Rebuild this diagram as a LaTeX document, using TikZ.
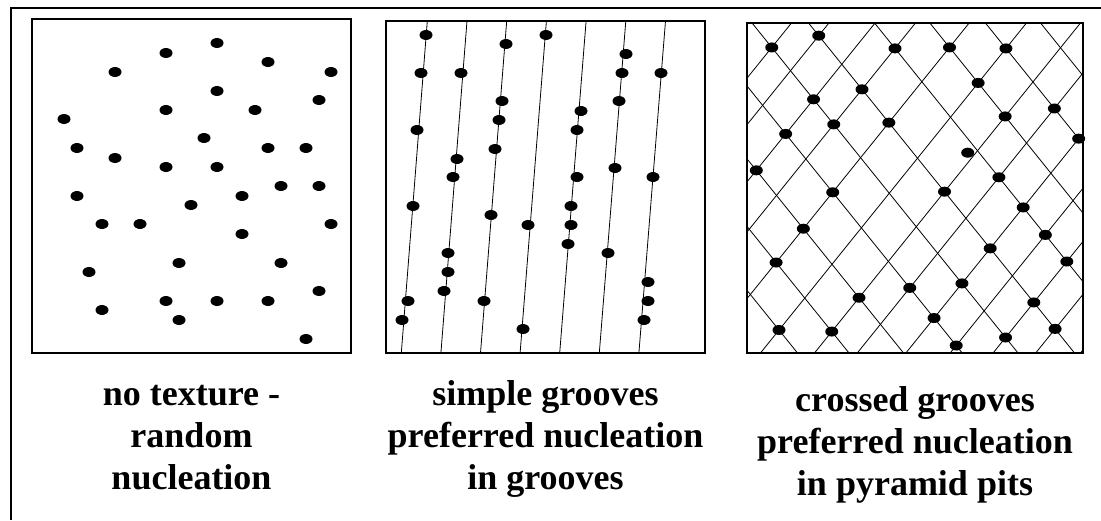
\documentclass[tikz,border=0pt]{standalone}
\usepackage{fontspec}
\setmainfont{Liberation Serif}

\begin{document}
\begin{tikzpicture}[x=1pt,y=-1pt,
  box/.style={line width=2.6pt},
  groove/.style={line width=0.8pt},
  frameline/.style={line width=1.6pt},
  lbl/.style={font=\bfseries\fontsize{36}{42}\selectfont,anchor=base,inner sep=0pt}]
 \useasboundingbox (0,0) rectangle (1101,520);
 % frame, top and left side only
 \draw[frameline] (1101,8)--(11,8)--(11,520);
 % no texture
 \foreach \x/\y in {217/43,166/53,268/62,115/72,331/72,217/91,319/100,166/110,255/110,
   64/119,204/138,77/148,268/148,306/148,115/158,166/167,217/167,281/186,319/186,
   77/196,242/196,191/205,102/224,140/224,331/224,242/234,179/263,281/263,89/272,
   319/291,166/301,217/301,268/301,102/310,179/320,306/339}{\fill (\x,\y) ellipse (6.5pt and 5pt);}
 \draw[box] (32,19) rectangle (351,353);
 % simple grooves
 \foreach \i in {0,...,6}{\draw[groove] ({427.3+39.7*\i},21)--({401.3+39.6*\i},353);}
 \foreach \x/\y in {426/35,421/73,417/130,413/206,408/301,402/320,
   461/73,457/159,453/177,448/253,448/272,444/291,
   506/44,502/101,499/120,495/149,491/215,484/301,
   546/35,528/225,523/329,
   581/111,577/130,577/177,571/206,571/225,568/244,
   626/54,622/73,619/101,615/168,608/253,
   661/73,653/177,648/282,648/301,644/320}{\fill (\x,\y) ellipse (6.5pt and 5pt);}
 \draw[box] (386,21) rectangle (705,353);
 % crossed grooves
 \begin{scope}
  \clip (747,23) rectangle (1083,353);
  \foreach \u in {810,847.5,893.6,934,987.7,1045,1099,1141.8,1190.4,1234.7,1277.6,1320.2,1365}
   {\draw[groove] (\u,0)--({\u-322.4},400);}
  \foreach \v in {513,564.5,619,677.7,733.5,790,856,911.3,966.9,1022}
   {\draw[groove] (\v,0)--({\v+322.4},400);}
 \end{scope}
 \foreach \u/\v in {847.5/790,810/733.5,934/856,987.7/911.3,1045/966.9,1045/911.3,934/790,
   893.6/733.5,1141.8/966.9,1099/911.3,934/733.5,987.7/790,893.6/677.7,1190.4/966.9,
   893.6/619,1141.8/856,987.7/677.7,1099/790,1190.4/856,987.7/619,1234.7/856,1190.4/790,
   1277.6/856,987.7/564.5,1141.8/677.7,1190.4/733.5,1099/619,1277.6/790,1190.4/677.7,
   1045/513,1099/564.5,1320.2/790,1277.6/733.5,1234.7/677.7}
   {\fill ({(\u+\v)/2},{(\u-\v)*0.6203}) ellipse (6.5pt and 5pt);}
 \fill (967.7,152.7) ellipse (6.5pt and 5pt);
 \draw[box] (747,23) rectangle (1083,353);
 % captions
 \node[lbl] (capA1) at (191.5,405) {no texture -};
 \node[lbl] (capA2) at (191.5,447) {random};
 \node[lbl] (capA3) at (191.5,489) {nucleation};
 \node[lbl] (capB1) at (545.5,405) {simple grooves};
 \node[lbl] (capB2) at (545.5,447) {preferred nucleation};
 \node[lbl] (capB3) at (545.5,489) {in grooves};
 \node[lbl] (capC1) at (915,411) {crossed grooves};
 \node[lbl] (capC2) at (915,453) {preferred nucleation};
 \node[lbl] (capC3) at (915,495) {in pyramid pits};
\end{tikzpicture}
\end{document}
